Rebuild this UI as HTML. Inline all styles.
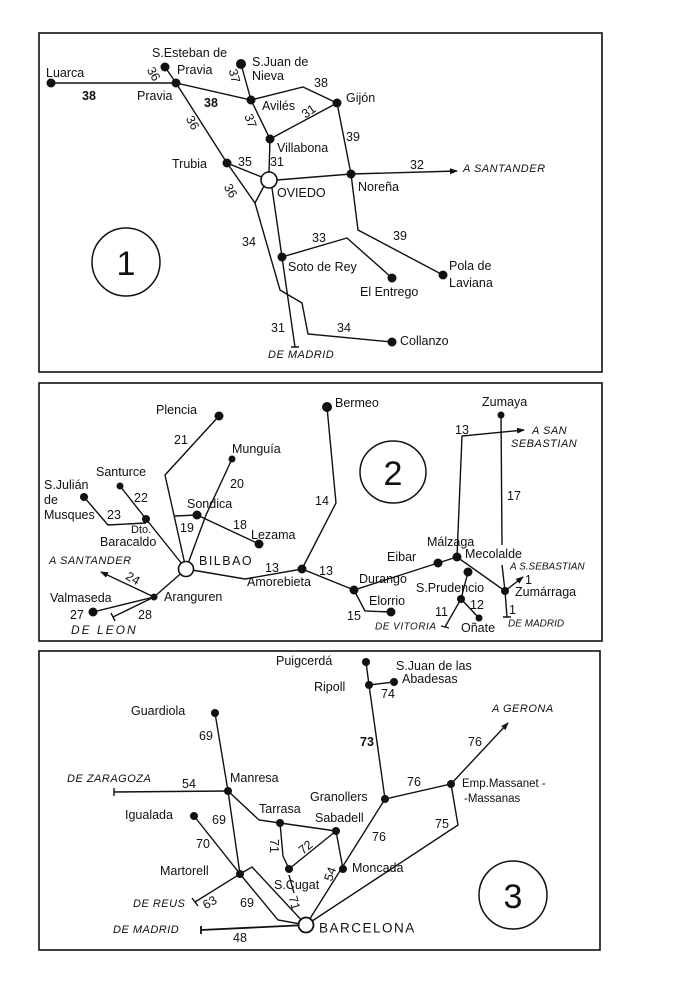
<!DOCTYPE html>
<html><head><meta charset="utf-8"><style>
html,body{margin:0;padding:0;background:#fff;}
svg{display:block;}
text{font-family:"Liberation Sans",sans-serif;font-size:12.5px;fill:#111;dominant-baseline:central;}
.i{font-style:italic;font-size:11px;letter-spacing:0.5px;}
.n{font-size:12.5px;}
.b{font-weight:bold;}
.big{font-size:34px;}
</style></head><body>
<svg width="699" height="990" viewBox="0 0 699 990" xmlns="http://www.w3.org/2000/svg">
<defs><marker id="ar" markerWidth="8" markerHeight="8" refX="7" refY="4" orient="auto" markerUnits="userSpaceOnUse"><path d="M0,1 L8,4 L0,7 Z" fill="#111"/></marker></defs>
<g fill="none" stroke="#111" stroke-width="1.6">
<rect x="39" y="33" width="563" height="339"/>
<rect x="39" y="383" width="563" height="258"/>
<rect x="39" y="651" width="561" height="299"/>
</g>
<!-- PANEL 1 -->
<g fill="none" stroke="#111" stroke-width="1.4">
<path d="M51,83 L176,83 L251,100 L303,87 L337,103 L351,174 L358,230 L443,275"/>
<path d="M165,67 L176,83 L227,163 L269,180"/>
<path d="M241,64 L251,100 L270,139 L337,103"/>
<path d="M270,139 L269,172"/>
<path d="M277,180 L351,174 L457,171" marker-end="url(#ar)"/>
<path d="M227,163 L255,203 L264,186"/>
<path d="M255,203 L280,290 L302,303 L308,334 L392,342"/>
<path d="M272,188 L295,347 M291,347 L299,347"/>
<path d="M282,257 L347,238 L392,278"/>
</g>
<g fill="#111">
<circle cx="51" cy="83" r="4.5"/><circle cx="176" cy="83" r="4.5"/><circle cx="165" cy="67" r="4.5"/>
<circle cx="241" cy="64" r="5"/><circle cx="251" cy="100" r="4.5"/><circle cx="337" cy="103" r="4.5"/>
<circle cx="270" cy="139" r="4.5"/><circle cx="227" cy="163" r="4.5"/><circle cx="351" cy="174" r="4.5"/>
<circle cx="282" cy="257" r="4.5"/><circle cx="392" cy="278" r="4.5"/><circle cx="443" cy="275" r="4.5"/><circle cx="392" cy="342" r="4.5"/>
</g>
<circle cx="269" cy="180" r="8" fill="#fff" stroke="#111" stroke-width="1.6"/>
<circle cx="126" cy="262" r="34" fill="none" stroke="#111" stroke-width="1.5"/>
<text x="126" y="264" text-anchor="middle" class="big">1</text>
<text x="46" y="73">Luarca</text><text x="82" y="96" class="b">38</text>
<text x="152" y="53">S.Esteban de</text><text x="177" y="70">Pravia</text>
<text x="137" y="96">Pravia</text>
<text x="150" y="68" transform="rotate(60 150 68)">36</text>
<text x="252" y="62">S.Juan de</text><text x="252" y="76">Nieva</text>
<text x="228" y="75" transform="rotate(75 234 75)">37</text>
<text x="204" y="103" class="b">38</text><text x="314" y="83">38</text>
<text x="262" y="106">Avilés</text>
<text x="302" y="112" transform="rotate(-35 308 112)">31</text>
<text x="244" y="120" transform="rotate(70 250 120)">37</text>
<text x="346" y="98">Gijón</text><text x="346" y="137">39</text>
<text x="277" y="148">Villabona</text>
<text x="172" y="164">Trubia</text><text x="238" y="162">35</text><text x="270" y="162">31</text>
<text x="186" y="122" transform="rotate(60 192 122)">36</text>
<text x="224" y="190" transform="rotate(60 230 190)">36</text>
<text x="277" y="193">OVIEDO</text>
<text x="410" y="165">32</text><text x="463" y="169" class="i">A SANTANDER</text>
<text x="358" y="187">Noreña</text>
<text x="242" y="242">34</text><text x="312" y="238">33</text><text x="393" y="236">39</text>
<text x="288" y="267">Soto de Rey</text>
<text x="360" y="292">El Entrego</text>
<text x="449" y="266">Pola de</text><text x="449" y="283">Laviana</text>
<text x="271" y="328">31</text><text x="337" y="328">34</text>
<text x="400" y="341">Collanzo</text>
<text x="268" y="355" class="i">DE MADRID</text>
<!-- PANEL 2 -->
<g fill="none" stroke="#111" stroke-width="1.4">
<path d="M219,416 L165,475 L186,569"/>
<path d="M232,459 L206,515 L186,569"/>
<path d="M175,516 L197,515 L259,544"/>
<path d="M120,486 L146,519 L186,569"/>
<path d="M84,497 L108,525 L146,523"/>
<path d="M186,569 L154,597 L93,612"/>
<path d="M154,597 L101,572" marker-end="url(#ar)"/>
<path d="M154,597 L113,617 M111,613 L115,621"/>
<path d="M186,569 L245,579 L302,569 L354,590 L438,563 L457,557 L505,591"/>
<path d="M327,407 L336,503 L302,569"/>
<path d="M354,590 L365,611 L391,612"/>
<path d="M457,557 L462,436 L524,430" marker-end="url(#ar)"/>
<path d="M468,572 L461,599 L445,627 M441,626 L449,628"/>
<path d="M461,599 L479,618"/>
<path d="M501,415 L502,545 M502,565 L505,591 L507,617 M503,617 L511,617"/>
<path d="M505,591 L523,577" marker-end="url(#ar)"/>
</g>
<g fill="#111">
<circle cx="219" cy="416" r="4.5"/><circle cx="232" cy="459" r="3.5"/><circle cx="197" cy="515" r="4.5"/>
<circle cx="259" cy="544" r="4.5"/><circle cx="120" cy="486" r="3.5"/><circle cx="84" cy="497" r="4"/>
<circle cx="146" cy="519" r="4"/><circle cx="154" cy="597" r="3.5"/><circle cx="93" cy="612" r="4.5"/>
<circle cx="327" cy="407" r="5"/><circle cx="302" cy="569" r="4.5"/><circle cx="354" cy="590" r="4.5"/>
<circle cx="391" cy="612" r="4.5"/><circle cx="438" cy="563" r="4.5"/><circle cx="457" cy="557" r="4.5"/>
<circle cx="468" cy="572" r="4.5"/><circle cx="461" cy="599" r="4"/><circle cx="479" cy="618" r="3.5"/>
<circle cx="501" cy="415" r="3.5"/><circle cx="505" cy="591" r="4"/>
</g>
<circle cx="186" cy="569" r="7.5" fill="#fff" stroke="#111" stroke-width="1.6"/>
<ellipse cx="393" cy="472" rx="33" ry="31" fill="none" stroke="#111" stroke-width="1.5"/>
<text x="393" y="474" text-anchor="middle" class="big">2</text>
<text x="156" y="410">Plencia</text><text x="174" y="440">21</text>
<text x="232" y="449">Munguía</text><text x="230" y="484">20</text>
<text x="96" y="472">Santurce</text><text x="134" y="498">22</text>
<text x="44" y="485">S.Julián</text><text x="44" y="500">de</text><text x="44" y="515">Musques</text>
<text x="107" y="515">23</text>
<text x="187" y="504">Sondica</text><text x="180" y="528">19</text><text x="233" y="525">18</text>
<text x="251" y="535">Lezama</text>
<text x="131" y="530" style="font-size:11px">Dto.</text><text x="100" y="542">Baracaldo</text>
<text x="199" y="561" style="letter-spacing:1.5px">BILBAO</text>
<text x="49" y="561" class="i">A SANTANDER</text>
<text x="126" y="578" transform="rotate(30 132 578)">24</text>
<text x="164" y="597">Aranguren</text>
<text x="50" y="598">Valmaseda</text><text x="70" y="615">27</text><text x="138" y="615">28</text>
<text x="71" y="630" class="i" style="font-size:12px;letter-spacing:2px">DE LEON</text>
<text x="265" y="568">13</text><text x="247" y="582">Amorebieta</text>
<text x="315" y="501">14</text>
<text x="319" y="571">13</text>
<text x="335" y="403">Bermeo</text>
<text x="359" y="579">Durango</text><text x="369" y="601">Elorrio</text><text x="347" y="616">15</text>
<text x="375" y="627" class="i" style="font-size:10px">DE VITORIA</text>
<text x="387" y="557">Eibar</text>
<text x="427" y="542">Málzaga</text><text x="465" y="554">Mecolalde</text>
<text x="455" y="430">13</text>
<text x="532" y="431" class="i">A SAN</text><text x="511" y="444" class="i">SEBASTIAN</text>
<text x="482" y="402">Zumaya</text><text x="507" y="496">17</text>
<text x="416" y="588">S.Prudencio</text>
<text x="510" y="567" class="i" style="font-size:10px;letter-spacing:0">A S.SEBASTIAN</text>
<text x="525" y="580">1</text>
<text x="515" y="592">Zumárraga</text>
<text x="435" y="612">11</text><text x="470" y="605">12</text><text x="509" y="610">1</text>
<text x="461" y="628">Oñate</text>
<text x="508" y="624" class="i" style="font-size:10px;letter-spacing:0">DE MADRID</text>
<!-- PANEL 3 -->
<g fill="none" stroke="#111" stroke-width="1.4">
<path d="M366,662 L369,685 L385,799 L451,784 L458,825 L306,925"/>
<path d="M369,685 L394,682"/>
<path d="M451,784 L508,723" marker-end="url(#ar)"/>
<path d="M385,799 L306,925"/>
<path d="M336,831 L343,869"/>
<path d="M336,831 L289,869"/>
<path d="M280,823 L336,831"/>
<path d="M280,823 L283,856 L289,869"/>
<path d="M228,791 L259,820 L280,823"/>
<path d="M228,791 L114,792 M114,788 L114,796"/>
<path d="M215,713 L228,791 L240,874"/>
<path d="M194,816 L240,874 L195,902 M192,898 L198,906"/>
<path d="M240,874 L252,867 L306,925"/>
<path d="M240,874 L278,920 L306,925"/>
<path d="M289,875 L294,893"/>
<path d="M306,925 L201,930 M201,926 L201,934" stroke-width="1.8"/>
</g>
<g fill="#111">
<circle cx="366" cy="662" r="4"/><circle cx="369" cy="685" r="4"/><circle cx="394" cy="682" r="4"/>
<circle cx="385" cy="799" r="4"/><circle cx="451" cy="784" r="4"/><circle cx="343" cy="869" r="4"/>
<circle cx="336" cy="831" r="4"/><circle cx="289" cy="869" r="4"/><circle cx="280" cy="823" r="4"/>
<circle cx="228" cy="791" r="4"/><circle cx="215" cy="713" r="4"/><circle cx="194" cy="816" r="4"/><circle cx="240" cy="874" r="4"/>
</g>
<circle cx="306" cy="925" r="7.5" fill="#fff" stroke="#111" stroke-width="1.8"/>
<circle cx="513" cy="895" r="34" fill="none" stroke="#111" stroke-width="1.5"/>
<text x="513" y="897" text-anchor="middle" class="big">3</text>
<text x="276" y="661">Puigcerdá</text><text x="314" y="687">Ripoll</text>
<text x="396" y="666">S.Juan de las</text><text x="402" y="679">Abadesas</text>
<text x="381" y="694">74</text><text x="360" y="742" class="b">73</text>
<text x="492" y="709" class="i">A GERONA</text><text x="468" y="742">76</text>
<text x="462" y="784" style="font-size:11.5px">Emp.Massanet -</text><text x="464" y="799" style="font-size:11.5px">-Massanas</text>
<text x="407" y="782">76</text>
<text x="310" y="797">Granollers</text>
<text x="435" y="824">75</text><text x="372" y="837">76</text>
<text x="352" y="868">Moncada</text>
<text x="315" y="818">Sabadell</text><text x="299" y="848" transform="rotate(-40 305 848)">72</text>
<text x="259" y="809">Tarrasa</text><text x="268" y="845" transform="rotate(90 274 845)">71</text>
<text x="230" y="778">Manresa</text><text x="182" y="784">54</text>
<text x="67" y="779" class="i">DE ZARAGOZA</text>
<text x="131" y="711">Guardiola</text><text x="199" y="736">69</text>
<text x="125" y="815">Igualada</text><text x="212" y="820">69</text><text x="196" y="844">70</text>
<text x="160" y="871">Martorell</text>
<text x="133" y="904" class="i">DE REUS</text><text x="203" y="903" transform="rotate(-30 209 903)">63</text>
<text x="240" y="903">69</text>
<text x="274" y="885">S.Cugat</text>
<text x="288" y="902" transform="rotate(75 294 902)">71</text>
<text x="324" y="875" transform="rotate(-70 330 875)">54</text>
<text x="319" y="928" style="font-size:13.5px;letter-spacing:1.5px">BARCELONA</text>
<text x="113" y="930" class="i">DE MADRID</text><text x="233" y="938">48</text>
</svg>
</body></html>
